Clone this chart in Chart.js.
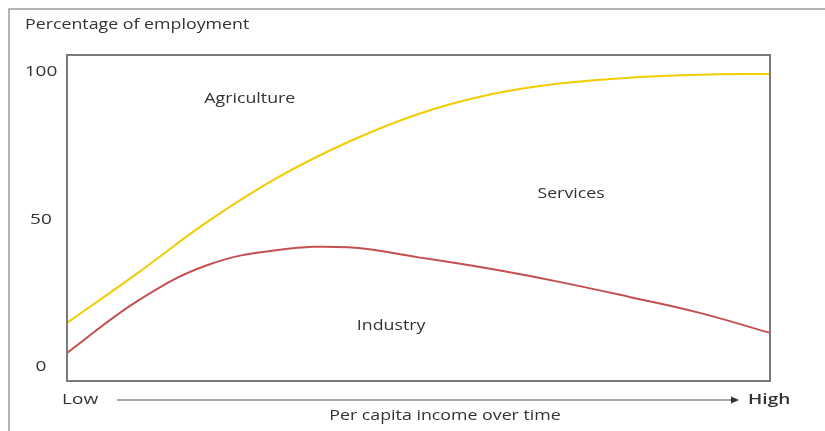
<!DOCTYPE html>
<html>
<head>
<meta charset="utf-8">
<script src="https://cdn.jsdelivr.net/npm/chart.js@4.4.0/dist/chart.umd.min.js"></script>
<style>
html,body{margin:0;padding:0;background:#fff;}
#wrap{width:825px;height:431px;position:relative;}
</style>
</head>
<body>
<div id="wrap"><canvas id="c" width="825" height="431"></canvas></div>
<script>
// Per capita income position (0 = Low, 100 = High)
const incomeSteps = [0, 10, 20, 30, 40, 50, 60, 70, 80, 90, 100];
// Percentage of employment boundaries
const agricultureTop = [14.2, 31, 48.5, 63.5, 75.5, 85, 91.5, 95.3, 97.3, 98.3, 98.6];
const industryTop = [4.0, 21.6, 33.8, 38.9, 39.8, 36.4, 32.6, 28.1, 23.0, 17.6, 10.8];
const yTicks = [0, 50, 100];
const yAxisTitle = 'Percentage of employment';
const xAxisTitle = 'Per capita income over time';
const xLow = 'Low', xHigh = 'High';
const regionLabels = [
  {text: 'Agriculture', x: 26, y: 90},
  {text: 'Services', x: 71.7, y: 58},
  {text: 'Industry', x: 46.1, y: 13},
];

const FONT = '"Open Sans", sans-serif';
const STRETCH = 1.27;

function txt(ctx, s, x, y, font, align) {
  ctx.save();
  ctx.font = font;
  ctx.textAlign = align;
  ctx.textBaseline = 'middle';
  ctx.translate(x, y);
  ctx.scale(STRETCH, 1);
  ctx.fillText(s, 0, 0);
  ctx.restore();
}

const decor = {
  id: 'decor',
  beforeDraw(chart) {
    const ctx = chart.ctx;
    ctx.save();
    ctx.fillStyle = '#fff';
    ctx.fillRect(0, 0, chart.width, chart.height);
    ctx.strokeStyle = '#9a9a9a';
    ctx.lineWidth = 1.5;
    ctx.beginPath();
    ctx.moveTo(9, chart.height + 2);
    ctx.lineTo(9, 9);
    ctx.lineTo(chart.width + 2, 9);
    ctx.stroke();
    ctx.restore();
  },
  afterDraw(chart) {
    const ctx = chart.ctx;
    const a = chart.chartArea;
    const ys = chart.scales.y, xs = chart.scales.x;
    ctx.save();
    ctx.strokeStyle = '#7a7a7a';
    ctx.lineWidth = 2;
    ctx.strokeRect(a.left, a.top, a.right - a.left, a.bottom - a.top);
    ctx.fillStyle = '#333';
    txt(ctx, yAxisTitle, 25, 25, '14px ' + FONT, 'left');
    yTicks.forEach(v => txt(ctx, String(v), 41, ys.getPixelForValue(v) + 2, '15px ' + FONT, 'center'));
    regionLabels.forEach(r => txt(ctx, r.text, xs.getPixelForValue(r.x), ys.getPixelForValue(r.y), '14px ' + FONT, 'center'));
    txt(ctx, xLow, 62, 400, '15px ' + FONT, 'left');
    txt(ctx, xHigh, 748, 400, '600 15px ' + FONT, 'left');
    ctx.strokeStyle = '#888';
    ctx.lineWidth = 1.5;
    ctx.beginPath();
    ctx.moveTo(117, 400);
    ctx.lineTo(733, 400);
    ctx.stroke();
    ctx.fillStyle = '#333';
    ctx.beginPath();
    ctx.moveTo(739, 400);
    ctx.lineTo(731, 396.5);
    ctx.lineTo(731, 403.5);
    ctx.closePath();
    ctx.fill();
    txt(ctx, xAxisTitle, 445, 416, '14px ' + FONT, 'center');
    ctx.restore();
  }
};

new Chart(document.getElementById('c'), {
  type: 'line',
  data: {
    datasets: [
      {
        label: 'Agriculture',
        data: incomeSteps.map((x, i) => ({x, y: agricultureTop[i]})),
        borderColor: '#F0CC00',
        borderWidth: 2,
        pointRadius: 0,
        tension: 0.4,
        fill: false
      },
      {
        label: 'Industry',
        data: incomeSteps.map((x, i) => ({x, y: industryTop[i]})),
        borderColor: '#C4504F',
        borderWidth: 2,
        pointRadius: 0,
        tension: 0.4,
        fill: false
      }
    ]
  },
  options: {
    responsive: false,
    animation: false,
    events: [],
    layout: {padding: {left: 67, top: 55, right: 55, bottom: 50}},
    plugins: {legend: {display: false}, tooltip: {enabled: false}},
    scales: {
      x: {type: 'linear', min: 0, max: 100, display: false},
      y: {type: 'linear', min: -5.5, max: 105, display: false}
    }
  },
  plugins: [decor]
});
</script>
</body>
</html>
